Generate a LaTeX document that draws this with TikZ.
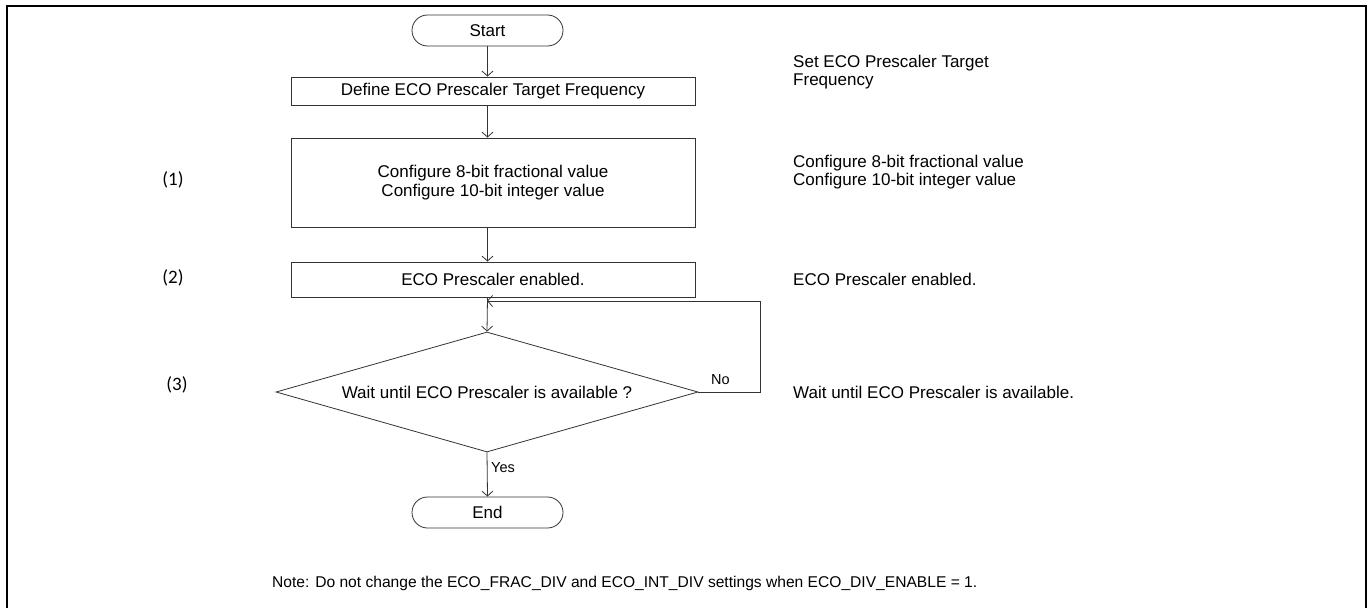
\documentclass[tikz,border=0pt]{standalone}
\usepackage{fontspec}
\setmainfont{Liberation Sans}
\newfontfamily\labelfont{Carlito}
\usetikzlibrary{shapes.geometric,arrows.meta}
\definecolor{ink}{HTML}{333333}
\begin{document}
\begin{tikzpicture}[x=1pt,y=-1pt,
  every node/.style={font=\fontsize{17}{18.5}\selectfont, text=black},
  term/.style={draw=ink, line width=0.8pt, rounded corners=15.5pt, minimum width=151pt, minimum height=31pt, inner sep=0pt},
  proc/.style={draw=ink, line width=0.8pt, minimum width=404pt, inner sep=0pt, align=center},
  decide/.style={draw=ink, line width=0.8pt, diamond, aspect=3.5, minimum width=422pt, minimum height=120pt, inner sep=0pt},
  note/.style={anchor=west, align=left, inner sep=0pt},
  stepno/.style={font=\labelfont\fontsize{19}{22}\selectfont, inner sep=0pt},
  flow/.style={draw=ink, line width=0.8pt, -{Straight Barb[length=5pt,width=11pt]}},
  lbl/.style={font=\fontsize{14.5}{16}\selectfont, inner sep=0pt}
]
\useasboundingbox (0,0) rectangle (1370,608);
\fill[white] (0,0) rectangle (1370,608);

% outer frame
\draw[line width=2.2pt] (7,608) -- (7,6) -- (1366,6) -- (1366,608);

% flow chart
\node[term] (start) at (487.5,30.5) {Start};
\node[proc, minimum height=28pt] (define) at (493,91) {Define ECO Prescaler Target Frequency};
\node[proc, minimum height=89pt] (config) at (493,182.5) {Configure 8-bit fractional value\\Configure 10-bit integer value};
\node[proc, minimum height=35pt] (enable) at (493,279.5) {ECO Prescaler enabled.};
\node[decide] (wait) at (487,392) {Wait until ECO Prescaler is available ?};
\node[term] (end) at (487.5,512.5) {End};

\coordinate (back) at (487,301);

\draw[flow] (start) -- (start |- define.north);
\draw[flow] (start |- define.south) -- (start |- config.north);
\draw[flow] (start |- config.south) -- (start |- enable.north);
\draw[flow] (start |- enable.south) -- (wait.north);
\draw[flow] (wait.east) -- ++(61.5,0) |- (back);
\draw[flow] (wait.south) -- (end.north);

\node[lbl, anchor=south west] (nolbl) at (711,385) {No};
\node[lbl, anchor=west] (yeslbl) at (491,468) {Yes};

% step numbers
\node[stepno] (s1) at (173,180) {(1)};
\node[stepno] (s2) at (173,278) {(2)};
\node[stepno] (s3) at (177,385) {(3)};

% descriptions
\node[note] (d1) at (793,72) {Set ECO Prescaler Target\\Frequency};
\node[note] (d2) at (793,172) {Configure 8-bit fractional value\\Configure 10-bit integer value};
\node[note] (d3) at (793,279) {ECO Prescaler enabled.};
\node[note] (d4) at (793,392) {Wait until ECO Prescaler is available.};

% footnote
\node[note, font=\fontsize{15.6}{18}\selectfont] (foot) at (272,583) {Note: Do not change the ECO\_FRAC\_DIV and ECO\_INT\_DIV settings when ECO\_DIV\_ENABLE = 1.};
\end{tikzpicture}
\end{document}
